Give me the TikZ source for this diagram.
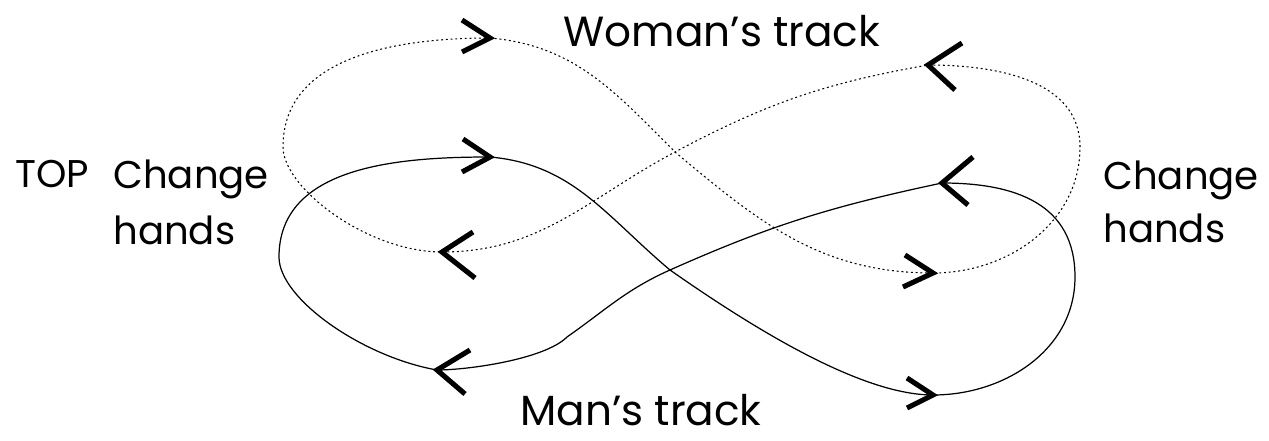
\documentclass[tikz,border=0pt]{standalone}
\usepackage{fontspec}
\setmainfont{Poppins}
\usetikzlibrary{arrows.meta}

\tikzset{
  womantrack/.style={line width=0.6pt, dash pattern=on 1.1pt off 1.6pt},
  mantrack/.style={line width=0.7pt},
  chevron/.style={line width=2.9pt},
  lbl/.style={inner sep=0pt, font=\fontsize{22}{26}\selectfont},
  biglbl/.style={inner sep=0pt, font=\fontsize{24}{29}\selectfont}
}

\begin{document}
\begin{tikzpicture}[x=0.02cm, y=0.02cm]
\useasboundingbox (0,0) rectangle (1269,440);
% woman's track
\coordinate (w1) at (490,402);
\coordinate (wx) at (675,288);
\coordinate (w2) at (933,167);
\coordinate (wr) at (1080,293);
\coordinate (w3) at (928,375);
\coordinate (w4) at (442,188);
\coordinate (wl) at (283,293);
% man's track
\coordinate (m1) at (490,283);
\coordinate (mx) at (670,170);
\coordinate (m2) at (933,45);
\coordinate (mr) at (1075,163);
\coordinate (m3) at (942,257);
\coordinate (mk) at (567,103);
\coordinate (m4) at (437,70);
\coordinate (ml) at (279,183);
\draw[womantrack] (w1) to[out=-5,in=135] (wx) to[out=-40,in=180] (w2)
  to[out=0,in=-90] (wr) to[out=90,in=0] (w3) to[out=190,in=28] (wx)
  to[out=208,in=0] (w4) to[out=180,in=-90,in looseness=0.55] (wl)
  to[out=90,in=180] (w1);
\draw[mantrack] (m1) to[out=-5,in=140] (mx) to[out=-35,in=180,in looseness=0.6] (m2)
  to[out=0,in=-90] (mr) to[out=90,in=0,looseness=1.15] (m3) to[out=192,in=24] (mx)
  to[out=204,in=35] (mk) to[out=225,in=0,looseness=0.6] (m4)
  to[out=170,in=-90,in looseness=0.55] (ml) to[out=90,in=180] (m1);
% direction marks
\draw[chevron] (w1) ++(-28,18) -- (w1) -- ++(-28,-14);
\draw[chevron] (w2) ++(-28,18) -- (w2) -- ++(-30,-14);
\draw[chevron] (w3) ++(34,22) -- (w3) -- ++(27,-25);
\draw[chevron] (w4) ++(31,20) -- (w4) -- ++(33,-26);
\draw[chevron] (m1) ++(-27,18) -- (m1) -- ++(-28,-15);
\draw[chevron] (m2) ++(-26,17) -- (m2) -- ++(-26,-13);
\draw[chevron] (m3) ++(31,26) -- (m3) -- ++(26,-22);
\draw[chevron] (m4) ++(33,20) -- (m4) -- ++(28,-24);
% labels
\node[lbl, anchor=base west] (top) at (15,252) {TOP};
\node[lbl, anchor=base west] (chl) at (113,251) {Change};
\node[lbl, anchor=base west] (hal) at (113,195) {hands};
\node[lbl, anchor=base west] (chr) at (1103,250) {Change};
\node[lbl, anchor=base west] (har) at (1103,197) {hands};
\node[biglbl, anchor=base] (wt) at (722,393) {Woman’s track};
\node[biglbl, anchor=base] (mt) at (641,14) {Man’s track};
\end{tikzpicture}
\end{document}
